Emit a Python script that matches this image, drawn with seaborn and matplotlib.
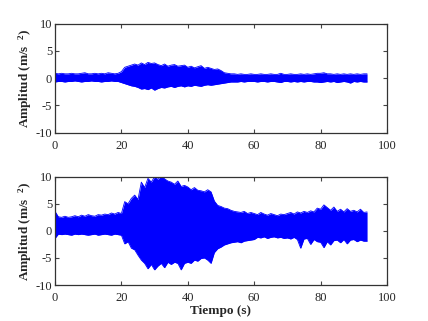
import numpy as np
import matplotlib
matplotlib.use("Agg")
import matplotlib.pyplot as plt
import seaborn as sns

# time axis (s), one envelope value per second
tiempo = list(range(0, 95))

# upper subplot: upper / lower envelope of the signal (m/s^2)
sup_top = [0.9, 0.8, 0.9, 0.8, 0.8, 0.9, 0.8, 0.8, 0.9, 1.0,
           0.8, 0.8, 0.9, 0.8, 0.9, 0.8, 1.0, 0.9, 0.8, 0.9,
           1.2, 2.0, 2.2, 2.4, 2.6, 2.4, 2.8, 2.5, 2.9, 2.7,
           2.8, 2.5, 2.3, 2.6, 2.2, 2.4, 2.5, 2.2, 2.3, 2.4,
           2.0, 2.2, 1.9, 2.1, 2.3, 1.8, 2.0, 1.8, 1.6, 1.7,
           1.4, 1.0, 0.9, 0.8, 0.8, 0.7, 0.8, 0.7, 0.7, 0.8,
           0.7, 0.7, 0.8, 0.7, 0.7, 0.8, 0.7, 0.7, 0.9, 0.7,
           0.7, 0.8, 0.7, 0.7, 0.8, 0.7, 0.8, 0.7, 0.8, 0.9,
           0.9, 1.0, 0.8, 0.8, 0.7, 0.8, 0.7, 0.8, 0.7, 0.8,
           0.7, 0.8, 0.7, 0.8, 0.8]
inf_top = [-0.7, -0.6, -0.6, -0.7, -0.6, -0.6, -0.5, -0.6, -0.7, -0.6,
           -0.6, -0.5, -0.6, -0.6, -0.7, -0.6, -0.6, -0.5, -0.6, -0.6,
           -0.8, -1.0, -1.2, -1.4, -1.5, -1.7, -2.0, -1.9, -2.1, -1.8,
           -2.2, -1.9, -1.7, -1.8, -1.6, -1.5, -1.7, -1.5, -1.4, -1.6,
           -1.4, -1.5, -1.3, -1.4, -1.5, -1.3, -1.2, -1.3, -1.2, -1.1,
           -1.0, -0.9, -0.8, -0.7, -0.7, -0.7, -0.6, -0.7, -0.6, -0.6,
           -0.6, -0.7, -0.6, -0.6, -0.7, -0.6, -0.6, -0.7, -0.8, -0.6,
           -0.6, -0.7, -0.6, -0.7, -0.6, -0.7, -0.6, -0.6, -0.7, -0.7,
           -0.8, -0.7, -0.6, -0.7, -0.6, -0.8, -0.7, -0.6, -0.7, -0.9,
           -0.6, -0.7, -0.6, -0.7, -0.7]

# lower subplot
sup_bot = [3.6, 2.6, 2.5, 2.7, 2.5, 2.6, 2.8, 2.6, 2.9, 2.7,
           3.0, 2.8, 2.7, 3.0, 2.9, 3.1, 3.0, 3.3, 3.1, 3.4,
           3.2, 5.4, 5.0, 6.0, 6.6, 5.8, 9.0, 8.0, 9.7, 9.0,
           10.0, 9.5, 10.2, 9.6, 9.2, 9.0, 8.6, 9.2, 8.2, 8.4,
           8.1, 7.6, 8.0, 7.5, 7.4, 7.2, 7.6, 7.2, 5.5, 4.7,
           4.5, 4.2, 4.1, 3.8, 3.6, 3.5, 3.4, 3.6, 3.2, 3.4,
           3.2, 3.0, 3.4, 3.1, 2.9, 3.2, 3.0, 2.8, 3.1, 3.0,
           3.2, 3.4, 3.1, 3.5, 3.3, 3.6, 3.4, 3.7, 3.5, 4.2,
           4.0, 4.8, 4.3, 3.8, 4.4, 3.6, 4.0, 3.5, 4.1, 3.6,
           3.8, 3.5, 4.0, 3.4, 3.5]
inf_bot = [-1.4, -0.6, -0.7, -0.6, -0.7, -0.8, -0.6, -0.7, -0.6, -0.7,
           -0.8, -0.7, -0.6, -0.8, -0.7, -0.6, -0.7, -0.8, -0.6, -0.7,
           -0.8, -2.4, -2.0, -3.2, -3.5, -4.5, -5.4, -6.0, -7.0, -6.2,
           -7.2, -6.5, -6.0, -6.8, -5.8, -6.2, -5.8, -6.0, -7.2, -6.0,
           -5.8, -6.0, -5.4, -5.6, -5.1, -5.0, -5.4, -6.0, -4.0, -3.3,
           -3.0, -2.6, -2.4, -2.2, -2.1, -2.0, -2.2, -1.9, -1.8, -1.7,
           -1.6, -1.2, -1.3, -1.1, -1.4, -1.2, -1.1, -1.3, -1.2, -1.4,
           -1.3, -1.5, -1.2, -1.6, -3.2, -1.5, -1.4, -2.5, -1.6, -2.0,
           -2.1, -3.1, -2.0, -2.6, -1.8, -1.7, -2.2, -1.6, -2.4, -1.7,
           -1.6, -2.0, -1.7, -1.9, -1.9]

sns.set_style("ticks")
plt.rcParams['font.family'] = ['Liberation Serif', 'DejaVu Serif']
plt.rcParams['mathtext.default'] = 'regular'
plt.rcParams['axes.unicode_minus'] = False

fig = plt.figure(figsize=(4.28, 3.21), dpi=100)
ax1 = fig.add_axes([0.1285, 0.5866, 0.7757, 0.3396])
ax2 = fig.add_axes([0.1285, 0.1121, 0.7757, 0.3374])

for ax, sup, inf in [(ax1, sup_top, inf_top), (ax2, sup_bot, inf_bot)]:
    ax.fill_between(tiempo, inf, sup, color='#0000ff', linewidth=0)
    sns.lineplot(x=tiempo, y=sup, ax=ax, color='#0000ff', linewidth=0.6)
    sns.lineplot(x=tiempo, y=inf, ax=ax, color='#0000ff', linewidth=0.6)
    ax.set_xlim(0, 100)
    ax.set_ylim(-10, 10)
    ax.set_xticks([0, 20, 40, 60, 80, 100])
    ax.set_yticks([-10, -5, 0, 5, 10])
    ax.tick_params(direction='in', length=3, width=0.8, labelsize=9,
                   top=True, right=True, color='#444444')
    ax.tick_params(axis='x', pad=5)
    ax.tick_params(axis='y', pad=2)
    for s in ax.spines.values():
        s.set_color('#333333')
        s.set_linewidth(0.9)
    ax.set_ylabel('Amplitud (m/s $^{\\ 2}$)', fontsize=9.5, fontweight='bold', labelpad=1)

ax2.set_xlabel('Tiempo (s)', fontsize=9.5, fontweight='bold', labelpad=1)

fig.savefig('out.png', dpi=100)
